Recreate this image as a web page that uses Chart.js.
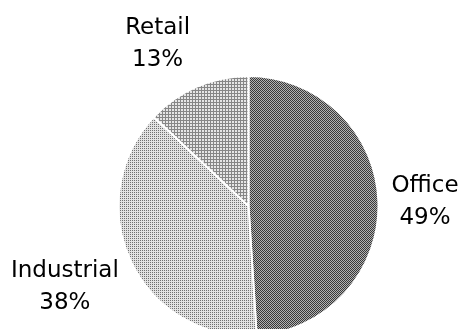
<!DOCTYPE html>
<html>
<head>
<meta charset="utf-8">
<script src="https://cdn.jsdelivr.net/npm/chart.js@4/dist/chart.umd.min.js"></script>
<style>
  html, body { margin: 0; padding: 0; background: #fff; overflow: hidden; }
  #wrap { width: 463px; height: 329px; }
</style>
</head>
<body>
<div id="wrap"><canvas id="graficoSetores" width="463" height="329"></canvas></div>
<script>
// dados do grafico
var categorias = ['Office', 'Industrial', 'Retail'];
var percentuais = [49, 38, 13];

// padroes pontilhados (imitando o dithering do original)
function criarPadrao(tam, desenhar) {
    var c = document.createElement('canvas');
    c.width = tam; c.height = tam;
    var g = c.getContext('2d');
    desenhar(g);
    return g.createPattern(c, 'repeat');
}

var ctxGrafico = document.getElementById('graficoSetores').getContext('2d');

var padraoOffice = criarPadrao(2, function(g){
    g.fillStyle = '#b2b2b2'; g.fillRect(0, 0, 2, 2);
    g.fillStyle = '#383838'; g.fillRect(0, 0, 1, 1); g.fillRect(1, 1, 1, 1);
});
var padraoIndustrial = criarPadrao(2, function(g){
    g.fillStyle = '#e2e2e2'; g.fillRect(0, 0, 2, 2);
    g.fillStyle = '#707070'; g.fillRect(0, 0, 1, 1);
});
var padraoRetail = criarPadrao(3, function(g){
    g.fillStyle = '#e6e6e6'; g.fillRect(0, 0, 3, 3);
    g.fillStyle = '#868686'; g.fillRect(0, 0, 3, 1); g.fillRect(0, 0, 1, 3);
});

function limitar(v) { return Math.max(-1, Math.min(1, v)); }

// rotulos fora da pizza: "Nome\nxx%"
var rotulosExternos = {
    id: 'rotulosExternos',
    afterDatasetsDraw: function(chart) {
        var ctx = chart.ctx;
        var meta = chart.getDatasetMeta(0);
        var alturaLinha = 32;
        ctx.save();
        ctx.font = '23px "DejaVu Sans"';
        ctx.fillStyle = '#000';
        ctx.textAlign = 'center';
        ctx.textBaseline = 'alphabetic';
        meta.data.forEach(function(arco, i) {
            var p = arco.getProps(['x', 'y', 'startAngle', 'endAngle', 'outerRadius'], true);
            var meio = (p.startAngle + p.endAngle) / 2;
            var dx = Math.cos(meio), dy = Math.sin(meio);
            var linhas = [categorias[i], percentuais[i] + '%'];
            var w = Math.max(ctx.measureText(linhas[0]).width, ctx.measureText(linhas[1]).width) + 6;
            var acima = 18, abaixo = 37;
            // ponto de ancora da caixa (lado voltado para a pizza)
            var dist = p.outerRadius + 10;
            var ax = p.x + dx * dist, ay = p.y + dy * dist;
            var fy = limitar(dy * 2.5);
            var cx = ax + limitar(dx * 2.5) * w / 2;
            var cy = ay + fy * (fy < 0 ? abaixo : acima);
            ctx.fillText(linhas[0], cx, cy - 7);
            ctx.fillText(linhas[1], cx, cy - 7 + alturaLinha);
        });
        ctx.restore();
    }
};

var grafico = new Chart(ctxGrafico, {
    type: 'pie',
    data: {
        labels: categorias,
        datasets: [{
            data: percentuais,
            backgroundColor: [padraoOffice, padraoIndustrial, padraoRetail],
            borderColor: '#ffffff',
            borderWidth: 2,
            clip: false
        }]
    },
    options: {
        responsive: false,
        animation: false,
        radius: 130,
        layout: { padding: { left: 34, top: 83, right: 0, bottom: 0 } },
        plugins: {
            legend: { display: false },
            tooltip: { enabled: false },
            title: { display: false }
        }
    },
    plugins: [rotulosExternos]
});
</script>
</body>
</html>
